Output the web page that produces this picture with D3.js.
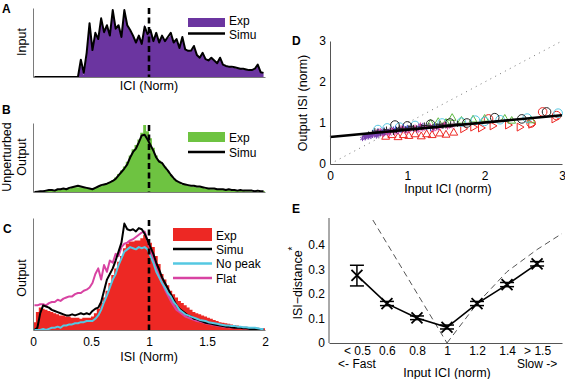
<!DOCTYPE html>
<html><head><meta charset="utf-8">
<script src="https://cdn.jsdelivr.net/npm/d3@7"></script>
<style>body{margin:0;background:#fff}svg{display:block;font-family:"Liberation Sans",Arial,Helvetica,sans-serif}</style>
</head><body><svg id="c" width="565" height="379"></svg>
<script>
// ---------------- DATA ----------------
const binWidth = 0.025; // normalized ICI/ISI bin width (80 bins over 0..2)
const xTicksC = [0, 0.5, 1, 1.5, 2];
const refValue = 1;

// Panel A: input ICI distribution
const simuA = [0,0,0,0,0,0,0,0,0,0,0,0,0,0,0,0,0.25,0.06,0.35,0.78,0.39,0.64,0.55,0.85,0.65,0.75,0.6,0.97,0.7,0.75,0.58,0.97,0.75,0.68,0.6,0.5,0.6,0.48,0.73,0.62,0.68,0.52,0.64,0.5,0.6,0.52,0.58,0.64,0.5,0.55,0.42,0.58,0.4,0.38,0.38,0.45,0.32,0.28,0.35,0.26,0.24,0.28,0.24,0.2,0.28,0.18,0.16,0.15,0.15,0.14,0.13,0.12,0.12,0.11,0.1,0.1,0.12,0.18,0.07,0.06];
const expA  = [0,0,0,0,0,0,0,0,0,0,0,0,0,0,0,0,0.2,0.03,0.3,0.72,0.42,0.6,0.56,0.8,0.66,0.72,0.62,0.92,0.7,0.72,0.6,0.92,0.74,0.66,0.6,0.52,0.58,0.5,0.76,0.6,0.66,0.53,0.62,0.5,0.58,0.52,0.56,0.6,0.5,0.53,0.43,0.55,0.4,0.38,0.37,0.42,0.32,0.28,0.33,0.26,0.24,0.26,0.23,0.2,0.26,0.18,0.16,0.15,0.14,0.13,0.12,0.12,0.11,0.1,0.1,0.09,0.11,0.16,0.07,0.05];

// Panel B: unperturbed output
const simuB = [0,0.005,0.01,0.01,0.02,0.03,0.03,0.02,0.04,0.04,0.05,0.04,0.06,0.07,0.08,0.09,0.08,0.07,0.06,0.05,0.04,0.06,0.08,0.1,0.11,0.12,0.14,0.16,0.19,0.24,0.29,0.34,0.4,0.5,0.58,0.63,0.72,0.82,0.83,0.76,0.68,0.6,0.5,0.44,0.42,0.36,0.31,0.25,0.2,0.16,0.14,0.12,0.11,0.1,0.09,0.09,0.08,0.08,0.07,0.06,0.05,0.05,0.05,0.04,0.04,0.04,0.03,0.04,0.03,0.03,0.02,0.03,0.02,0.02,0.02,0.02,0.01,0.02,0.01,0.01];
const expB  = [0,0,0.01,0.01,0.02,0.02,0.03,0.03,0.03,0.04,0.04,0.05,0.05,0.06,0.07,0.07,0.07,0.06,0.06,0.05,0.05,0.06,0.07,0.09,0.1,0.12,0.14,0.17,0.21,0.26,0.31,0.37,0.44,0.53,0.62,0.68,0.76,0.86,0.97,0.88,0.78,0.64,0.53,0.46,0.42,0.37,0.31,0.25,0.2,0.16,0.13,0.11,0.1,0.09,0.08,0.08,0.07,0.07,0.06,0.05,0.05,0.04,0.04,0.04,0.03,0.03,0.03,0.03,0.02,0.02,0.02,0.02,0.02,0.01,0.01,0.01,0.01,0.01,0.01,0.01];

// Panel C: perturbed output
const expC  = [0.07,0.16,0.2,0.19,0.18,0.17,0.16,0.15,0.14,0.13,0.13,0.12,0.12,0.11,0.11,0.11,0.1,0.11,0.11,0.11,0.12,0.15,0.19,0.24,0.29,0.35,0.42,0.49,0.55,0.61,0.66,0.73,0.77,0.79,0.79,0.8,0.8,0.82,0.85,0.8,0.78,0.74,0.66,0.59,0.5,0.45,0.4,0.35,0.32,0.29,0.26,0.24,0.22,0.2,0.18,0.16,0.15,0.14,0.13,0.12,0.11,0.1,0.09,0.08,0.07,0.065,0.06,0.055,0.05,0.045,0.04,0.035,0.03,0.03,0.025,0.025,0.02,0.02,0.015,0.015];
const simuC = [0,0.02,0.15,0.22,0.21,0.2,0.18,0.17,0.16,0.15,0.14,0.13,0.13,0.14,0.13,0.14,0.15,0.14,0.15,0.14,0.17,0.19,0.2,0.25,0.35,0.45,0.5,0.55,0.62,0.7,0.78,0.95,0.9,0.89,0.9,0.88,0.91,0.9,0.86,0.8,0.74,0.68,0.6,0.54,0.47,0.42,0.37,0.32,0.27,0.22,0.19,0.17,0.15,0.13,0.12,0.1,0.095,0.085,0.075,0.065,0.06,0.055,0.05,0.045,0.04,0.035,0.03,0.03,0.025,0.02,0.02,0.02,0.015,0.015,0.01,0.01,0.01,0.01,0.005,0.005];
const noPeakC = [0,0,0,0.01,0,0.01,0.02,0.02,0.03,0.02,0.04,0.04,0.05,0.05,0.06,0.06,0.07,0.07,0.08,0.08,0.08,0.1,0.13,0.18,0.25,0.31,0.38,0.45,0.5,0.58,0.64,0.7,0.72,0.74,0.73,0.72,0.74,0.73,0.74,0.72,0.66,0.6,0.52,0.47,0.42,0.38,0.33,0.3,0.25,0.22,0.18,0.16,0.14,0.13,0.12,0.11,0.1,0.09,0.085,0.08,0.07,0.065,0.06,0.055,0.05,0.045,0.04,0.04,0.035,0.035,0.03,0.03,0.025,0.025,0.02,0.02,0.02,0.015,0.01,0.01];
const flatC = [0.22,0.22,0.23,0.23,0.22,0.24,0.25,0.25,0.27,0.26,0.28,0.29,0.3,0.3,0.32,0.33,0.33,0.35,0.36,0.38,0.42,0.5,0.55,0.45,0.58,0.52,0.62,0.6,0.68,0.66,0.74,0.77,0.78,0.8,0.81,0.83,0.85,0.87,0.88,0.8,0.72,0.64,0.55,0.48,0.42,0.36,0.31,0.26,0.22,0.18,0.16,0.14,0.12,0.11,0.1,0.09,0.08,0.075,0.07,0.06,0.055,0.05,0.045,0.04,0.035,0.03,0.03,0.025,0.025,0.02,0.02,0.02,0.015,0.015,0.015,0.01,0.01,0.01,0.01,0.005];

// Panel D: input ICI vs output ISI (several recordings)
const dTicks = [0, 1, 2, 3];
const identityLine = [[0, 0], [3, 3]];
const fitLine = [[0, 0.66], [3, 1.19]];
const dPurple = [[0.42,0.62],[0.45,0.68],[0.5,0.66],[0.52,0.72],[0.55,0.7],[0.58,0.75],[0.6,0.68],[0.63,0.73],[0.67,0.78],[0.7,0.74],[0.48,0.7],[0.75,0.8],[0.46,0.64],[0.53,0.67],[0.62,0.71]];
const dBlue = [[0.55,0.76],[0.62,0.8],[0.7,0.82],[0.78,0.79],[0.85,0.86],[0.92,0.83],[1.0,0.88],[1.08,0.86],[1.15,0.91],[1.25,0.9],[0.66,0.77],[0.95,0.9],[0.5,0.7],[0.58,0.73],[0.74,0.78],[0.82,0.84],[0.88,0.8],[0.98,0.85],[1.05,0.9],[1.12,0.84],[1.2,0.93],[1.3,0.87],[1.35,0.93],[1.4,0.9]];
const dMagenta = [[0.6,0.78],[0.72,0.76],[0.8,0.84],[0.88,0.8],[0.95,0.86],[1.02,0.82],[1.1,0.9],[1.2,0.85],[1.3,0.92],[1.38,0.88],[1.45,0.94],[1.52,0.9],[0.77,0.73],[1.17,0.95],[0.55,0.7],[0.65,0.82],[0.68,0.72],[0.84,0.77],[0.92,0.88],[0.98,0.79],[1.06,0.86],[1.14,0.82],[1.24,0.9],[1.34,0.84],[1.42,0.9],[1.48,0.97],[1.58,0.93]];
const dBlackDots = [[0.5,0.72],[0.58,0.8],[0.65,0.75],[0.73,0.84],[0.82,0.78],[0.9,0.87],[0.98,0.84],[1.05,0.92],[1.12,0.87],[1.22,0.94],[1.33,0.9],[1.42,0.97],[1.5,0.95],[0.45,0.68],[0.55,0.74],[0.62,0.78],[0.7,0.8],[0.78,0.82],[0.86,0.83],[0.94,0.86],[1.02,0.87],[1.08,0.88],[1.18,0.9],[1.28,0.93],[1.38,0.92],[1.46,0.93],[1.56,0.97],[1.65,0.98]];
const dBlackCircles = [[0.84,0.95],[1.0,0.93],[1.3,0.97],[1.55,1.0],[1.77,1.0],[2.13,1.13],[2.48,1.1],[2.8,1.27]];
const dCyanCircles = [[0.62,0.84],[0.74,0.88],[0.9,0.9],[1.1,0.94],[1.45,1.0],[1.7,1.02],[1.88,1.07],[2.0,1.04],[2.2,1.08],[2.55,1.12],[2.95,1.24]];
const dGreenTri = [[1.3,0.98],[1.4,1.02],[1.5,1.0],[1.58,1.12],[1.7,1.05],[1.85,1.08],[2.0,1.1],[2.26,1.1],[2.35,1.05],[2.6,1.06]];
const dRedTri = [[0.72,0.66],[0.8,0.7],[0.88,0.65],[0.95,0.7],[1.02,0.68],[1.1,0.72],[1.18,0.67],[1.25,0.72],[1.32,0.7],[1.42,0.74],[1.5,0.71],[1.6,0.76]];
const dRedRight = [[1.72,0.86],[1.85,0.9],[1.95,0.88],[2.1,0.93],[2.3,0.95],[2.45,0.9],[2.6,0.97],[2.9,1.1]];
const dRedCircles = [[2.05,1.1],[2.6,1.0],[2.75,1.27],[2.93,1.18]];

// Panel E: ISI-distance by input ICI class
const eLabels = ["< 0.5", "0.6", "0.8", "1", "1.2", "1.4", "> 1.5"];
const eSubLabels = ["<- Fast", "", "", "", "", "", "Slow ->"];
const eMean = [0.275, 0.16, 0.102, 0.064, 0.16, 0.237, 0.322];
const eLow  = [0.232, 0.152, 0.095, 0.057, 0.152, 0.229, 0.313];
const eHigh = [0.316, 0.169, 0.11, 0.073, 0.169, 0.246, 0.331];
const eYTicks = [0, 0.1, 0.2, 0.3, 0.4];
const eGuideLeft = [[0.53, 0.5], [3, 0]];
const eGuideRight = [[3, 0], [4, 0.16], [5, 0.29], [6, 0.38], [6.83, 0.445]];

// ---------------- DRAW ----------------
const svg = d3.select('#c');
const PURPLE = '#6b35a0', GREEN = '#6ec341', RED = '#ed2824', CYAN = '#55c8e2', MAG = '#d843a2';
const AXC = '#7a7a7a';
const nb = simuA.length;
const centers = d3.range(nb).map(i => (i + 0.5) * binWidth);
const edges = d3.range(nb + 1).map(i => i * binWidth);
const xH = d3.scaleLinear().domain([0, 2]).range([33, 265]);

function label(txt, x, y, opts = {}) {
  const t = svg.append('text').attr('x', x).attr('y', y).text(txt)
    .attr('font-size', opts.size || 12.5).attr('fill', '#000')
    .attr('text-anchor', opts.anchor || 'start');
  if (opts.bold) t.attr('font-weight', 'bold');
  if (opts.rotate) t.attr('transform', `rotate(-90,${x},${y})`);
  return t;
}

function axesH(y) {
  svg.append('g').attr('transform', `translate(0,${y(0)})`)
    .call(d3.axisBottom(xH).tickValues([]).tickSizeOuter(0))
    .select('.domain').attr('stroke', AXC);
  svg.append('g').attr('transform', `translate(${xH(0)},0)`)
    .call(d3.axisLeft(y).tickValues([]).tickSizeOuter(0))
    .select('.domain').attr('stroke', AXC);
}
function refLine(y, top) {
  svg.append('line').attr('x1', xH(refValue)).attr('x2', xH(refValue))
    .attr('y1', top).attr('y2', y(0)).attr('stroke', '#000')
    .attr('stroke-width', 2.6).attr('stroke-dasharray', '6,3.5');
}
const lineAt = (y, curve) => d3.line().x((d, i) => xH(centers[i])).y(d => y(d)).curve(curve || d3.curveLinear);
const stepArea = (y) => d3.area().x(d => xH(d[0])).y0(y(0)).y1(d => y(d[1])).curve(d3.curveStepAfter);
const stepData = vals => edges.map((e, i) => [e, vals[Math.min(i, vals.length - 1)]]);

// ---- Panel A ----
{
  const y = d3.scaleLinear().domain([0, 1]).range([77, 8]);
  svg.append('path').datum(expA).attr('fill', PURPLE)
    .attr('d', d3.area().x((d, i) => xH(centers[i])).y0(y(0)).y1(d => y(d)));
  svg.append('path').datum(simuA).attr('fill', 'none').attr('stroke', '#000').attr('stroke-width', 2)
    .attr('stroke-linejoin', 'round').attr('d', lineAt(y));
  axesH(y);
  refLine(y, 8);
  svg.append('rect').attr('x', 188).attr('y', 18).attr('width', 37).attr('height', 9).attr('fill', PURPLE);
  svg.append('line').attr('x1', 188).attr('x2', 225).attr('y1', 33.5).attr('y2', 33.5).attr('stroke', '#000').attr('stroke-width', 2.5);
  label('Exp', 229, 25, {size: 12});
  label('Simu', 229, 38.5, {size: 12});
  label('ICI (Norm)', xH(1), 90, {anchor: 'middle'});
  label('Input', 26, 42, {anchor: 'middle', rotate: true});
  label('A', 2, 13, {bold: true, size: 12});
}

// ---- Panel B ----
{
  const y = d3.scaleLinear().domain([0, 1]).range([192, 123]);
  svg.append('path').datum(stepData(expB)).attr('fill', GREEN).attr('d', stepArea(y));
  svg.append('path').datum(simuB).attr('fill', 'none').attr('stroke', '#000').attr('stroke-width', 2)
    .attr('stroke-linejoin', 'round').attr('d', lineAt(y));
  axesH(y);
  refLine(y, 125);
  svg.append('rect').attr('x', 188).attr('y', 132).attr('width', 37).attr('height', 10).attr('fill', GREEN);
  svg.append('line').attr('x1', 188).attr('x2', 225).attr('y1', 152).attr('y2', 152).attr('stroke', '#000').attr('stroke-width', 2.5);
  label('Exp', 229, 141.5, {size: 12});
  label('Simu', 229, 156.5, {size: 12});
  label('Unperturbed', 11, 157, {anchor: 'middle', rotate: true});
  label('Output', 26, 157, {anchor: 'middle', rotate: true});
  label('B', 2, 114, {bold: true, size: 12});
}

// ---- Panel C ----
{
  const y = d3.scaleLinear().domain([0, 1]).range([330, 218]);
  svg.append('path').datum(stepData(expC)).attr('fill', RED).attr('d', stepArea(y));
  const series = [[flatC, MAG], [simuC, '#000'], [noPeakC, CYAN]];
  series.forEach(([vals, col]) => {
    svg.append('path').datum(vals).attr('fill', 'none').attr('stroke', col).attr('stroke-width', 2)
      .attr('stroke-linejoin', 'round').attr('d', lineAt(y));
  });
  const gx = svg.append('g').attr('transform', `translate(0,${y(0)})`)
    .call(d3.axisBottom(xH).tickValues(xTicksC).tickFormat(d3.format('')).tickSize(0).tickPadding(7.5));
  gx.select('.domain').attr('stroke', AXC);
  gx.selectAll('text').attr('font-size', 12).attr('font-family', null);
  svg.append('g').attr('transform', `translate(${xH(0)},0)`)
    .call(d3.axisLeft(y).tickValues([]).tickSizeOuter(0)).select('.domain').attr('stroke', AXC);
  refLine(y, 220);
  svg.append('rect').attr('x', 173).attr('y', 228).attr('width', 39).attr('height', 13).attr('fill', RED);
  [['#000', 249, 'Simu', 253.5], [CYAN, 263.5, 'No peak', 268], [MAG, 278, 'Flat', 282.5]].forEach(([c, ly, t, ty]) => {
    svg.append('line').attr('x1', 173).attr('x2', 212).attr('y1', ly).attr('y2', ly).attr('stroke', c).attr('stroke-width', 2.5);
    label(t, 216, ty, {size: 12});
  });
  label('Exp', 216, 239.5, {size: 12});
  label('ISI (Norm)', xH(1), 361, {anchor: 'middle'});
  label('Output', 26, 278, {anchor: 'middle', rotate: true});
  label('C', 3, 233, {bold: true, size: 12});
}

// ---- Panel D ----
{
  const x = d3.scaleLinear().domain([0, 3]).range([330, 562]);
  const y = d3.scaleLinear().domain([0, 3]).range([164, 41]);
  svg.append('path').datum(identityLine).attr('fill', 'none').attr('stroke', '#777').attr('stroke-width', 1)
    .attr('stroke-dasharray', '1,4.5').attr('d', d3.line().x(d => x(d[0])).y(d => y(d[1])));
  const groups = [
    [dRedTri, d3.symbolTriangle2, 45, RED, 0],
    [dRedRight, d3.symbolTriangle2, 45, RED, 90],
    [dRedCircles, d3.symbolCircle, 58, RED, 0],
    [dGreenTri, d3.symbolTriangle2, 42, '#5cb840', 0],
    [dCyanCircles, d3.symbolCircle, 58, CYAN, 0],
    [dBlackCircles, d3.symbolCircle, 58, '#222', 0],
    [dBlue, d3.symbolPlus, 14, '#3446c8', 0],
    [dMagenta, d3.symbolAsterisk, 18, MAG, 0],
    [dBlackDots, d3.symbolPlus, 14, '#222', 0],
    [dPurple, d3.symbolAsterisk, 18, '#7a40b0', 0]
  ];
  groups.forEach(([pts, sym, size, col, rot]) => {
    svg.append('g').selectAll('path').data(pts).join('path')
      .attr('transform', d => `translate(${x(d[0])},${y(d[1])}) rotate(${rot})`)
      .attr('d', d3.symbol(sym, size)).attr('fill', 'none').attr('stroke', col).attr('stroke-width', 1);
  });
  svg.append('path').datum(fitLine).attr('fill', 'none').attr('stroke', '#000').attr('stroke-width', 2.6)
    .attr('d', d3.line().x(d => x(d[0])).y(d => y(d[1])));
  const gx = svg.append('g').attr('transform', `translate(0,${y(0)})`)
    .call(d3.axisBottom(x).tickValues(dTicks).tickFormat(d3.format('d')).tickSize(0).tickPadding(7.5));
  const gy = svg.append('g').attr('transform', `translate(${x(0)},0)`)
    .call(d3.axisLeft(y).tickValues(dTicks).tickFormat(d3.format('d')).tickSize(0).tickPadding(4));
  [gx, gy].forEach(g => { g.select('.domain').attr('stroke', '#555'); g.selectAll('text').attr('font-size', 12).attr('font-family', null); });
  label('Input ICI (norm)', 448, 193, {anchor: 'middle'});
  label('Output ISI (norm)', 307, 103, {anchor: 'middle', rotate: true});
  label('D', 292, 45, {bold: true, size: 12});
}

// ---- Panel E ----
{
  const idx = d3.range(eLabels.length);
  const x = d3.scaleLinear().domain([-0.93, 6.83]).range([329, 562]);
  const y = d3.scaleLinear().domain([0, 0.5]).range([343, 220]);
  const ln = d3.line().x(d => x(d[0])).y(d => y(d[1]));
  [eGuideLeft, eGuideRight].forEach(g => svg.append('path').datum(g).attr('fill', 'none')
    .attr('stroke', '#555').attr('stroke-width', 1).attr('stroke-dasharray', '6,4').attr('d', ln));
  svg.append('path').datum(idx.map(i => [i, eMean[i]])).attr('fill', 'none').attr('stroke', '#000')
    .attr('stroke-width', 1.6).attr('d', ln);
  const g = svg.append('g').selectAll('g').data(idx).join('g');
  g.append('line').attr('x1', i => x(i)).attr('x2', i => x(i)).attr('y1', i => y(eLow[i])).attr('y2', i => y(eHigh[i]))
    .attr('stroke', '#000').attr('stroke-width', 1.5);
  [eLow, eHigh].forEach(arr => g.append('line').attr('x1', i => x(i) - 7).attr('x2', i => x(i) + 7)
    .attr('y1', i => y(arr[i])).attr('y2', i => y(arr[i])).attr('stroke', '#000').attr('stroke-width', 1.5));
  g.append('path').attr('transform', i => `translate(${x(i)},${y(eMean[i])})`)
    .attr('d', d3.symbol(d3.symbolTimes, 80)).attr('fill', 'none').attr('stroke', '#000').attr('stroke-width', 1.8);
  const gx = svg.append('g').attr('transform', `translate(0,${y(0)})`)
    .call(d3.axisBottom(x).tickValues(idx).tickFormat(i => eLabels[i]).tickSize(0).tickPadding(3));
  const gy = svg.append('g').attr('transform', `translate(${x.range()[0]},0)`)
    .call(d3.axisLeft(y).tickValues(eYTicks).tickFormat(d3.format('')).tickSize(0).tickPadding(4));
  gy.select('.domain').attr('d', `M0,${y(0)}V218`);
  [gx, gy].forEach(gg => { gg.select('.domain').attr('stroke', '#555'); gg.selectAll('text').attr('font-size', 12).attr('font-family', null); });
  idx.forEach(i => { if (eSubLabels[i]) label(eSubLabels[i], x(i), 368.2, {anchor: 'middle', size: 12}); });
  label('Input ICI (norm)', 447, 376.5, {anchor: 'middle'});
  const t = label('ISI\u2212distance', 302, 283, {anchor: 'middle', rotate: true});
  t.append('tspan').attr('dy', -6).attr('font-size', 10).text('*');
  label('E', 292, 213, {bold: true, size: 12});
}
</script></body></html>
